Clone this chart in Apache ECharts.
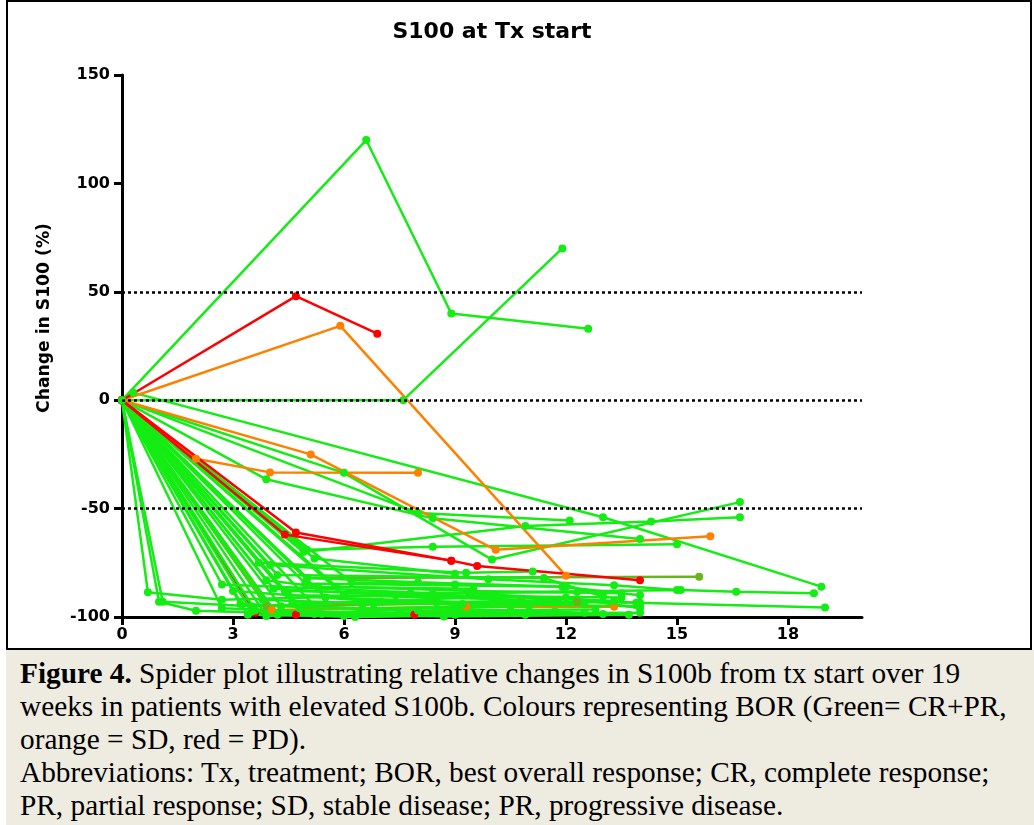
<!DOCTYPE html>
<html>
<head>
<meta charset="utf-8">
<script src="https://cdn.jsdelivr.net/npm/echarts@6/dist/echarts.min.js"></script>
<style>
  html,body{margin:0;padding:0;background:#fff;}
  #chart{position:absolute;left:0;top:0;width:1034px;height:825px;}
  #frame{position:absolute;left:6px;top:0;width:1026px;height:650px;border:2px solid #000;box-sizing:border-box;pointer-events:none;}
  #caption{position:absolute;left:6px;top:650px;width:1028px;height:175px;background:#EEEBE0;overflow:hidden;
    font-family:"Liberation Serif","Times New Roman",serif;font-size:29.3px;line-height:33px;color:#000;white-space:nowrap;padding:7px 0 0 14px;box-sizing:border-box;}
</style>
</head>
<body>
<div id="chart"></div>
<div id="frame"></div>
<div id="caption">
<b>Figure 4.</b> Spider plot illustrating relative changes in S100b from tx start over 19<br>
weeks in patients with elevated S100b. Colours representing BOR (Green= CR+PR,<br>
orange = SD, red = PD).<br>
Abbreviations: Tx, treatment; BOR, best overall response; CR, complete response;<br>
PR, partial response; SD, stable disease; PR, progressive disease.
</div>
<script>
// ---- data (weeks from tx start, % change in S100) ----
const titleText = 'S100 at Tx start';
const yAxisTitle = 'Change in S100 (%)';
const xTicks = [0, 3, 6, 9, 12, 15, 18];
const yTicks = [-100, -50, 0, 50, 100, 150];
const refLines = [50, 0, -50];

// Green = CR+PR
const greenPatients = [
  [[0,0],[6.6,120],[8.9,40],[12.6,33]],
  [[0,0],[7.6,0],[11.9,70]],
  [[0,0],[0.3,3.5],[13,-54],[18.9,-86]],
  [[0,0],[6,-33.5],[10,-73.5],[16.7,-47]],
  [[0,0],[3.9,-36.5],[8.4,-54.5],[14,-64]],
  [[0,0],[8,-52],[12.1,-55.5]],
  [[0,0],[5,-69],[8.4,-67.6],[15,-66.4]],
  [[0,0],[4.9,-70],[10.9,-58],[14.3,-56],[16.7,-54]],
  [[0,0],[3.7,-75],[9.3,-79.6],[11.1,-79]],
  [[0,0],[4,-76],[9.9,-82.6],[13.3,-85.3],[15,-87.5]],
  [[0,0],[2.7,-85],[8.4,-89],[15.1,-87.6],[16.6,-88.3],[18.7,-89]],
  [[0,0],[4.2,-80.6],[11.4,-82],[13,-90.6]],
  [[0,0],[4.95,-84.5],[11.9,-86],[14,-90]],
  [[0,0],[0.7,-88.6],[2.7,-92],[9.4,-89],[13.9,-93.4],[19,-95.6]],
  [[0,0],[1,-93],[2,-97.1],[5.2,-98.6],[13,-98.6]],
  [[0,0],[1.1,-93],[3.5,-95],[10.1,-90.6],[13.3,-92.6]],
  [[0,0],[2.7,-96],[8.7,-99.8],[13.7,-99]],
  [[0,0],[3.5,-97.5],[9.7,-98.3],[14,-98]],
  [[0,0],[3.9,-99.5],[11.3,-93],[14,-93.4]],
  [[0,0],[5.4,-98.6],[11.7,-97.5]],
  [[0,0],[4.5,-90],[12,-91],[14,-96]],
  [[0,0],[3.2,-94],[6.5,-96],[11,-95]],
  [[0,0],[3,-88],[7,-93],[12.5,-94]],
  [[0,0],[4.3,-95],[8,-97],[12.8,-96.5]],
  [[0,0],[5.8,-86],[9.5,-88],[13.5,-89]],
  [[0,0],[4.6,-93],[9.2,-94],[14,-95]],
  [[0,0],[3.4,-99],[6,-99.5],[9,-99]],
  [[0,0],[5,-82],[8,-84],[12,-86]],
  [[0,0],[4.1,-87],[7.4,-90],[13.5,-91]],
  [[0,0],[6,-90],[10.8,-92]],
  [[0,0],[3.6,-97],[7.5,-98],[10.5,-97]],
  [[0,0],[4.8,-96],[8.5,-96],[12.5,-98]],
  [[0,0],[5.5,-91],[10,-93.5]],
  [[0,0],[3.8,-92],[6.8,-94],[11.8,-92]],
  [[0,0],[6.2,-84],[9,-85]],
  [[0,0],[4.4,-88],[7.8,-89],[12.3,-88.5]],
  [[0,0],[3.9,-83],[5.3,-86],[9.5,-87]],
  [[0,0],[5.2,-73],[9,-80]],
  [[0,0],[4.2,-99],[6.3,-100],[10.9,-99]]
];
// Orange = SD
const orangePatientsBack = [
  [[0,0],[4.05,-96.8],[9.3,-95.2],[13.3,-95.3]]
];
const orangePatients = [
  [[0,0],[5.9,34.3],[12,-81]],
  [[0,0],[5.1,-25],[10.1,-69],[15.9,-62.7]],
  [[0,0],[2,-27],[4,-33.3],[8,-33.5]]
];
// Red = PD
const redPatientsBack = [
  [[0,0],[3.6,-98],[4.7,-99],[7.9,-99]]
];
const redPatients = [
  [[0,0],[4.7,48],[6.9,30.7]],
  [[0,0],[4.7,-61],[8.9,-74],[9.6,-76.5],[14,-83]],
  [[0,0],[4.4,-62],[8.9,-74]]
];
// olive-coloured traces
const olivePatients = [
  [[0,0],[5,-82],[15.6,-81.4]],
  [[0,0],[3.9,-95],[12.3,-93]]
];

const COLORS = {green:'#14ec14', orange:'#ff8000', red:'#ff0000', olive:'#66b51c'};

function mk(list, color){
  return list.map(p => ({
    type:'line', data:p, symbol:'circle', symbolSize:8, showAllSymbol:true,
    lineStyle:{width:2.5, color:color}, itemStyle:{color:color},
    emphasis:{disabled:true}, silent:true, animation:false
  }));
}

const series = [].concat(
  mk(olivePatients, COLORS.olive),
  mk(redPatientsBack, COLORS.red),
  mk(orangePatientsBack, COLORS.orange),
  mk(greenPatients, COLORS.green),
  mk(orangePatients, COLORS.orange),
  mk(redPatients, COLORS.red),
  // common baseline point of the green traces, drawn on top
  mk([greenPatients[0].slice(0, 1)], COLORS.green)
);
series[0].markLine = {
  silent:true, symbol:['none','none'], label:{show:false}, animation:false,
  lineStyle:{type:[3,3], color:'#000', width:2.5},
  data: refLines.map(v => ({yAxis:v}))
};

const chart = echarts.init(document.getElementById('chart'), null, {renderer:'canvas'});
const axisFont = {fontFamily:'DejaVu Sans', fontWeight:'bold', fontSize:16, color:'#000'};
chart.setOption({
  animation:false,
  backgroundColor:'#fff',
  grid:{left:122, right:172, top:75, bottom:208, containLabel:false},
  xAxis:{
    type:'value', min:0, max:20, interval:3,
    axisLine:{show:true, onZero:false, lineStyle:{color:'#000', width:3}},
    axisTick:{show:true, length:8, lineStyle:{color:'#000', width:3}, customValues:xTicks},
    axisLabel:Object.assign({margin:10, customValues:xTicks}, axisFont),
    splitLine:{show:false}
  },
  yAxis:{
    type:'value', min:-100, max:150, interval:50,
    axisLine:{show:true, onZero:false, lineStyle:{color:'#000', width:3}},
    axisTick:{show:true, length:8, lineStyle:{color:'#000', width:3}, customValues:yTicks},
    axisLabel:Object.assign({margin:12, customValues:yTicks}, axisFont),
    splitLine:{show:false}
  },
  graphic:[
    {type:'text', x:492, y:32, silent:true,
     style:{text:titleText, font:'bold 22px "DejaVu Sans"', fill:'#000', align:'center', verticalAlign:'middle', textAlign:'center', textVerticalAlign:'middle'}},
    {type:'text', x:45, y:318, rotation:Math.PI/2, silent:true,
     style:{text:yAxisTitle, font:'bold 17.2px "DejaVu Sans"', fill:'#000', align:'center', verticalAlign:'middle', textAlign:'center', textVerticalAlign:'middle'}}
  ],
  series:series
});
</script>
</body>
</html>
